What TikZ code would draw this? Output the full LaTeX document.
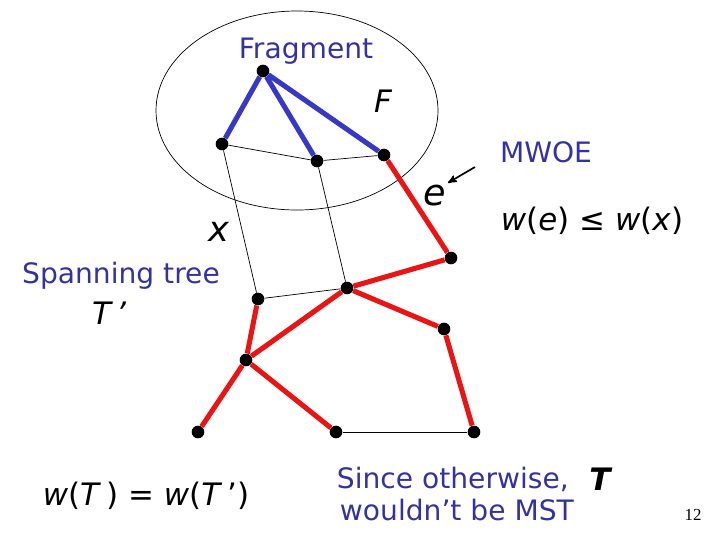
\documentclass[tikz,border=0pt]{standalone}
\usepackage{fontspec}
\setmainfont{DejaVu Sans}
\newfontfamily\pagenum{Liberation Serif}
\usetikzlibrary{arrows}
\definecolor{fragblue}{RGB}{55,55,200}
\definecolor{textblue}{RGB}{50,50,165}
\definecolor{treered}{RGB}{235,20,20}

\begin{document}
\begin{tikzpicture}[x=0.025cm,y=-0.025cm,>=stealth',
  vertex/.style={circle,fill=black,inner sep=0pt,minimum size=9pt},
  frag/.style={draw=fragblue,line width=3.6pt},
  tree/.style={draw=treered,line width=3.6pt},
  other/.style={draw=black,line width=0.5pt},
  caption/.style={text=textblue,font=\fontsize{20}{24}\selectfont},
  sym/.style={font=\fontsize{22}{26}\selectfont\itshape}]

\useasboundingbox (0,0) rectangle (720,540);

% fragment boundary
\draw[line width=0.5pt] (297,110.5) ellipse [x radius=141, y radius=99.5];

% vertices of F
\node[vertex] (f1) at (263,71) {};
\node[vertex] (f2) at (222,144) {};
\node[vertex] (f3) at (317,161) {};
\node[vertex] (f4) at (384,155) {};
% remaining vertices
\node[vertex] (n1) at (451,258) {};
\node[vertex] (n2) at (258,299) {};
\node[vertex] (n3) at (347,288) {};
\node[vertex] (n4) at (444,329) {};
\node[vertex] (n5) at (246,360) {};
\node[vertex] (n6) at (198,432) {};
\node[vertex] (n7) at (336,432) {};
\node[vertex] (n8) at (474,432) {};

\path
  (f1) edge[frag] (f2)
  (f1) edge[frag] (f3)
  (f1) edge[frag] (f4)
  (f2) edge[other] (f3)
  (f3) edge[other] (f4)
  (f2) edge[other] (n2)
  (f3) edge[other] (n3)
  (n2) edge[other] (n3)
  (n7) edge[other] (n8)
  (f4) edge[tree] (n1)
  (n1) edge[tree] (n3)
  (n3) edge[tree] (n5)
  (n2) edge[tree] (n5)
  (n3) edge[tree] (n4)
  (n4) edge[tree] (n8)
  (n5) edge[tree] (n6)
  (n5) edge[tree] (n7);

% labels
\node[caption,anchor=base] (fragtxt) at (306,58) {Fragment};
\node[sym] (flabel) at (383,101) {F};
\node[caption,anchor=base] (mwoe) at (546,162) {MWOE};
\node[sym,font=\fontsize{26}{30}\selectfont\itshape,inner sep=1pt,anchor=base] (elabel) at (435,205) {e};
\coordinate (ptr) at (475,167);
\draw[->,line width=1.2pt] (ptr) -- (elabel.north east);
\node[font=\fontsize{22}{26}\selectfont] (ineq) at (592,221) {\textit{w}(\textit{e}) ≤ \textit{w}(\textit{x})};
\node[sym,font=\fontsize{25}{30}\selectfont\itshape] (xlabel) at (219,232) {x};
\node[caption,anchor=base] (spantxt) at (121,283) {Spanning tree};
\node[sym] (tprime) at (109,313) {T\,'};
\node[font=\fontsize{22}{26}\selectfont] (weq) at (146,496) {\textit{w}(\textit{T}\,) = \textit{w}(\textit{T}\,')};
\node[caption,anchor=base west] (since) at (332,488) {Since otherwise,};
\node[sym,font=\fontsize{22}{26}\selectfont\bfseries\itshape] (tlabel) at (600,479) {T};
\node[caption,anchor=base west] (mst) at (335,520) {wouldn’t be MST};
\node[font=\pagenum\fontsize{12}{14}\selectfont] (page) at (693,515) {12};

\end{tikzpicture}
\end{document}
